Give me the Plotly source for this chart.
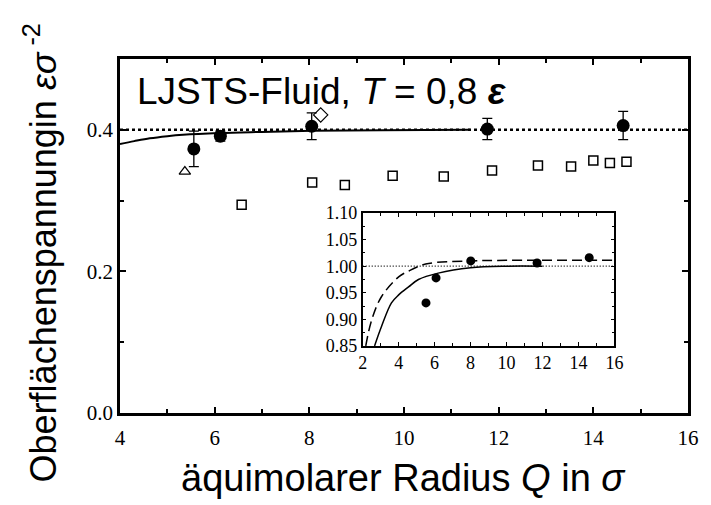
import plotly.graph_objects as go

# ---------------- main panel data ----------------
sim_x = [5.56, 6.12, 8.05, 11.76, 14.63]
sim_y = [0.373, 0.391, 0.405, 0.401, 0.406]
sim_err = [0.025, 0.007, 0.019, 0.015, 0.020]

sq_x = [6.57, 8.06, 8.75, 9.76, 10.84, 11.86, 12.83, 13.53, 14.00, 14.35, 14.70]
sq_y = [0.294, 0.3255, 0.322, 0.335, 0.334, 0.3425, 0.3496, 0.348, 0.3566, 0.353, 0.355]

tri_x = [5.37]
tri_y = [0.341]

dia_x = [8.24]
dia_y = [0.421]

theory_x = [4.0, 4.3, 4.63, 5.0, 5.33, 6.1, 7.0, 8.06, 9.5, 11.4]
theory_y = [0.380, 0.384, 0.388, 0.391, 0.393, 0.3955, 0.397, 0.3985, 0.3995, 0.400]

flat_x = [4, 16]
flat_y = [0.4, 0.4]

x_ticks = [4, 6, 8, 10, 12, 14, 16]
x_minor = [5, 7, 9, 11, 13, 15]
y_ticks = [0.0, 0.2, 0.4]
y_minor = [0.1, 0.3]

# ---------------- inset data ----------------
in_pts_x = [5.52, 6.08, 8.01, 11.70, 14.60]
in_pts_y = [0.931, 0.978, 1.010, 1.006, 1.016]

in_solid_x = [2.66, 3.05, 3.6, 4.0, 4.55, 5.1, 6.2, 8.0, 10.0, 12.0]
in_solid_y = [0.85, 0.887, 0.931, 0.946, 0.961, 0.975, 0.987, 0.997, 1.000, 1.000]

in_dash_x = [2.17, 2.5, 3.05, 4.0, 4.5, 5.5, 8.0, 10.0, 16.0]
in_dash_y = [0.85, 0.899, 0.943, 0.980, 0.990, 1.004, 1.010, 1.011, 1.011]

in_flat_x = [2, 16]
in_flat_y = [1.0, 1.0]

in_x_ticks = [2, 4, 6, 8, 10, 12, 14, 16]
in_x_minor = [3, 5, 7, 9, 11, 13, 15]
in_y_ticks = [0.85, 0.90, 0.95, 1.00, 1.05, 1.10]
in_y_minor = [0.875, 0.925, 0.975, 1.025, 1.075]

SERIF = "Liberation Serif"
SANS = "Liberation Sans"

fig = go.Figure()

# main traces
fig.add_trace(go.Scatter(x=flat_x, y=flat_y, mode="lines",
                         line=dict(color="black", width=2.5, dash="dot")))
fig.add_trace(go.Scatter(x=theory_x, y=theory_y, mode="lines",
                         line=dict(color="black", width=2, shape="spline")))
fig.add_trace(go.Scatter(x=sq_x, y=sq_y, mode="markers",
                         marker=dict(symbol="square-open", size=9, color="black",
                                     line=dict(width=1.5, color="black"))))
fig.add_trace(go.Scatter(x=tri_x, y=tri_y, mode="markers",
                         marker=dict(symbol="triangle-up-open", size=10, color="black",
                                     line=dict(width=1.2, color="black"))))
fig.add_trace(go.Scatter(x=dia_x, y=dia_y, mode="markers",
                         marker=dict(symbol="diamond-open", size=11, color="black",
                                     line=dict(width=1.2, color="black"))))
fig.add_trace(go.Scatter(x=sim_x, y=sim_y, mode="markers",
                         marker=dict(symbol="circle", size=13, color="black"),
                         error_y=dict(type="data", array=sim_err, color="black",
                                      thickness=1.3, width=5)))

# inset traces
fig.add_trace(go.Scatter(x=in_flat_x, y=in_flat_y, mode="lines", xaxis="x2", yaxis="y2",
                         line=dict(color="black", width=1.3, dash="1px,2px")))
fig.add_trace(go.Scatter(x=in_dash_x, y=in_dash_y, mode="lines", xaxis="x2", yaxis="y2",
                         line=dict(color="black", width=1.5, dash="10px,5px", shape="spline")))
fig.add_trace(go.Scatter(x=in_solid_x, y=in_solid_y, mode="lines", xaxis="x2", yaxis="y2",
                         line=dict(color="black", width=1.5, shape="spline")))
fig.add_trace(go.Scatter(x=in_pts_x, y=in_pts_y, mode="markers", xaxis="x2", yaxis="y2",
                         marker=dict(symbol="circle", size=9, color="black")))

main_axis = dict(showline=True, linecolor="black", linewidth=2.5, mirror="ticks",
                 ticks="inside", ticklen=6, tickwidth=2, tickcolor="black",
                 showgrid=False, zeroline=False,
                 tickfont=dict(family=SERIF, size=21, color="black"))
inset_axis = dict(showline=True, linecolor="black", linewidth=1.5, mirror="ticks",
                  ticks="inside", ticklen=4, tickwidth=1, tickcolor="black",
                  showgrid=False, zeroline=False,
                  tickfont=dict(family=SERIF, size=18, color="black"))

fig.update_layout(
    width=711, height=505,
    margin=dict(l=120, r=20, t=59, b=92),
    paper_bgcolor="white", plot_bgcolor="white",
    showlegend=False,
    xaxis=dict(**main_axis, range=[4, 16], domain=[0, 1], ticklabelstandoff=4,
               tickmode="array", tickvals=x_ticks, ticktext=[str(v) for v in x_ticks],
               minor=dict(tickvals=x_minor, ticks="inside", ticklen=4, tickwidth=1.5,
                          tickcolor="black", showgrid=False)),
    yaxis=dict(**main_axis, range=[0, 0.5], domain=[0, 1],
               tickmode="array", tickvals=y_ticks, ticktext=[f"{v:.1f}" for v in y_ticks],
               minor=dict(tickvals=y_minor, ticks="inside", ticklen=4, tickwidth=1.5,
                          tickcolor="black", showgrid=False)),
    xaxis2=dict(**inset_axis, anchor="y2", domain=[0.4273, 0.8704], range=[2, 16],
                tickmode="array", tickvals=in_x_ticks, ticktext=[str(v) for v in in_x_ticks],
                minor=dict(tickvals=in_x_minor, ticks="inside", ticklen=3, tickwidth=1,
                           tickcolor="black", showgrid=False)),
    yaxis2=dict(**inset_axis, anchor="x2", domain=[0.1893, 0.565], range=[0.8499, 1.1001],
                tickmode="array", tickvals=in_y_ticks, ticktext=[f"{v:.2f}" for v in in_y_ticks],
                minor=dict(tickvals=in_y_minor, ticks="inside", ticklen=3, tickwidth=1,
                           tickcolor="black", showgrid=False)),
    annotations=[
        dict(text="LJSTS-Fluid, <i>T</i> = 0,8 <b><i>ε</i></b>", xref="paper", yref="paper",
             x=0.026, y=(413 - 91) / 354, xanchor="left", yanchor="middle", showarrow=False,
             font=dict(family=SANS, size=37, color="black")),
        dict(text="äquimolarer Radius <i>Q</i> in <i>σ</i>", xref="paper", yref="paper",
             x=0.4991, y=(413 - 478) / 354, xanchor="center", yanchor="middle", showarrow=False,
             font=dict(family=SANS, size=38, color="black")),
        dict(text="Oberflächenspannungin <i>εσ</i><sup> -2</sup>", xref="paper", yref="paper",
             x=(40 - 120) / 571, y=(413 - 253) / 354, xanchor="center", yanchor="middle",
             textangle=-90, showarrow=False,
             font=dict(family=SANS, size=36, color="black")),
    ],
)

fig.write_html("out.html")
